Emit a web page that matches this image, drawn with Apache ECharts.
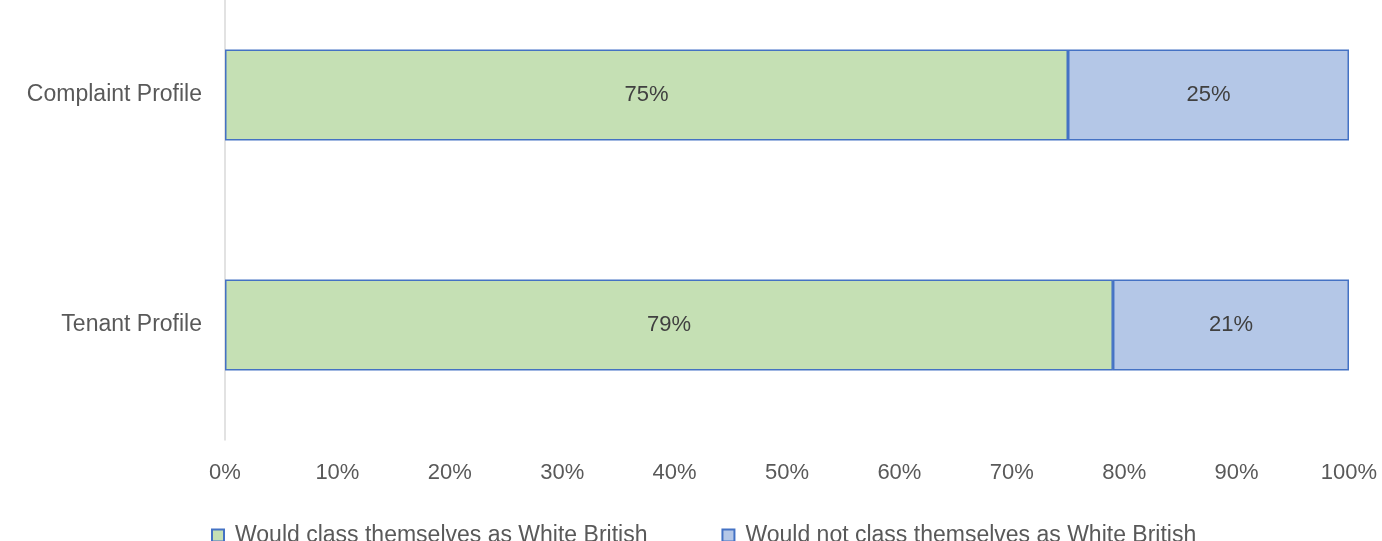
<!DOCTYPE html>
<html>
<head>
<meta charset="utf-8">
<script src="https://cdn.jsdelivr.net/npm/echarts@6/dist/echarts.min.js"></script>
<style>
    html, body { margin: 0; padding: 0; background: #fff; }
    #chart { width: 1382px; height: 541px; }
</style>
</head>
<body>
<div id="chart"></div>
<script type="text/javascript">
    // data
    var categories = ['Complaint Profile', 'Tenant Profile'];
    var whiteBritish = [75, 79];
    var notWhiteBritish = [25, 21];
    var seriesNames = ['Would class themselves as White British', 'Would not class themselves as White British'];

    var font = 'Liberation Sans';
    var myChart = echarts.init(document.getElementById('chart'));

    var option = {
        animation: false,
        textStyle: { fontFamily: font },
        legend: {
            left: 206,
            top: 519,
            itemWidth: 12,
            itemHeight: 12,
            itemGap: 74,
            icon: 'rect',
            textStyle: { fontSize: 23, color: '#595959', fontFamily: font, padding: [0, 0, 0, 6] },
            data: seriesNames
        },
        grid: {
            left: 225,
            right: 33,
            top: -20,
            bottom: 101,
            outerBoundsMode: 'none',
            containLabel: false
        },
        xAxis: {
            type: 'value',
            min: 0,
            max: 100,
            interval: 10,
            axisLine: { show: false },
            axisTick: { show: false },
            splitLine: { show: false },
            axisLabel: {
                formatter: '{value}%',
                fontSize: 22,
                color: '#595959',
                margin: 22
            }
        },
        yAxis: {
            type: 'category',
            inverse: true,
            data: categories,
            axisLine: { show: true, lineStyle: { color: '#D9D9D9', width: 1.5 } },
            axisTick: { show: false },
            axisLabel: {
                fontSize: 23,
                color: '#595959',
                margin: 23
            }
        },
        series: [
            {
                name: seriesNames[0],
                type: 'bar',
                stack: 'total',
                barWidth: 91,
                data: whiteBritish,
                itemStyle: { color: '#C5E0B4', borderColor: '#4472C4', borderWidth: 1.5 },
                label: {
                    show: true,
                    position: 'inside',
                    formatter: '{c}%',
                    fontSize: 22,
                    color: '#404040'
                }
            },
            {
                name: seriesNames[1],
                type: 'bar',
                stack: 'total',
                barWidth: 91,
                data: notWhiteBritish,
                itemStyle: { color: '#B4C7E7', borderColor: '#4472C4', borderWidth: 1.5 },
                label: {
                    show: true,
                    position: 'inside',
                    formatter: '{c}%',
                    fontSize: 22,
                    color: '#404040'
                }
            }
        ]
    };

    myChart.setOption(option);
</script>
</body>
</html>
